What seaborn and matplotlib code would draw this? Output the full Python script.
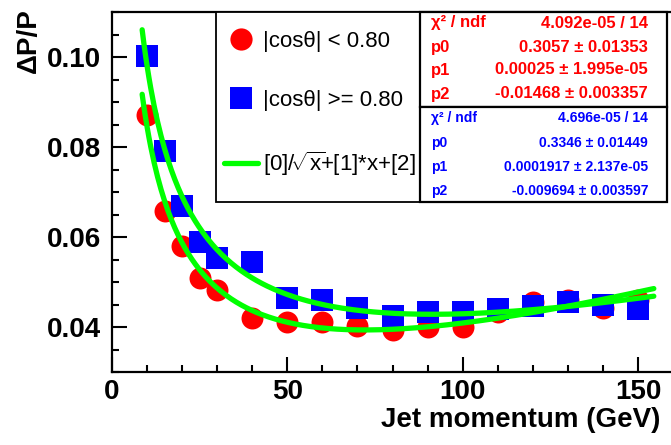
import numpy as np
import pandas as pd
import matplotlib
matplotlib.use("Agg")
import matplotlib.pyplot as plt
from matplotlib.lines import Line2D
from matplotlib.patches import Rectangle
from matplotlib.ticker import MultipleLocator, FormatStrFormatter
import seaborn as sns

# data
momentum = [10, 15, 20, 25, 30, 40, 50, 60, 70, 80, 90, 100, 110, 120, 130, 140, 150]
res_central = [0.0871, 0.0658, 0.0579, 0.0508, 0.0482, 0.0421, 0.0412, 0.0412, 0.0402,
               0.0393, 0.0401, 0.0399, 0.0434, 0.0456, 0.0460, 0.0442, 0.0460]
res_forward = [0.1003, 0.0792, 0.0669, 0.0588, 0.0553, 0.0545, 0.0465, 0.0460, 0.0442,
               0.0425, 0.0434, 0.0433, 0.0440, 0.0447, 0.0455, 0.0449, 0.0440]

# fit parameters printed in the stats boxes: [0]/sqrt(x)+[1]*x+[2]
fit_central = [0.3057, 0.00025, -0.01468]
fit_forward = [0.3346, 0.0001917, -0.009694]
fit_range = (8.6, 154.5)

stats_central = [("χ² / ndf", "4.092e-05 / 14"),
                 ("p0", "0.3057 ± 0.01353"),
                 ("p1", "0.00025 ± 1.995e-05"),
                 ("p2", "-0.01468 ± 0.003357")]
stats_forward = [("χ² / ndf", "4.696e-05 / 14"),
                 ("p0", "0.3346 ± 0.01449"),
                 ("p1", "0.0001917 ± 2.137e-05"),
                 ("p2", "-0.009694 ± 0.003597")]

RED = "#ff0000"
BLUE = "#0000ff"
GREEN = "#00ff00"

sns.set_style("ticks")
plt.rcParams["font.family"] = ["Liberation Sans", "DejaVu Sans"]
plt.rcParams["mathtext.fontset"] = "custom"
plt.rcParams["mathtext.rm"] = "Liberation Sans"
plt.rcParams["mathtext.it"] = "Liberation Sans"
plt.rcParams["text.color"] = "black"
plt.rcParams["xtick.color"] = "black"
plt.rcParams["ytick.color"] = "black"
plt.rcParams["axes.edgecolor"] = "black"

W, H = 671, 445
fig = plt.figure(figsize=(W / 100, H / 100), dpi=100)


def fx(px):
    return px / W


def fy(py):
    return 1 - py / H


ax = fig.add_axes([fx(112), fy(372), fx(671) - fx(112), fy(12) - fy(372)])

df_c = pd.DataFrame({"p": momentum, "res": res_central})
df_f = pd.DataFrame({"p": momentum, "res": res_forward})
sns.scatterplot(data=df_c, x="p", y="res", marker="o", s=250, color=RED,
                linewidth=0, ax=ax, zorder=3)
sns.scatterplot(data=df_f, x="p", y="res", marker="s", s=250, color=BLUE,
                linewidth=0, ax=ax, zorder=4)

xs = np.linspace(fit_range[0], fit_range[1], 300)
for par in (fit_central, fit_forward):
    ys = par[0] / np.sqrt(xs) + par[1] * xs + par[2]
    sns.lineplot(x=xs, y=ys, color=GREEN, lw=3.8, ax=ax, zorder=5)

ax.set_xlim(0, 159.4)
ax.set_ylim(0.03, 0.11)
ax.set_xticks([0, 50, 100, 150])
ax.set_yticks([0.04, 0.06, 0.08, 0.10])
ax.xaxis.set_minor_locator(MultipleLocator(10))
ax.yaxis.set_minor_locator(MultipleLocator(0.005))
ax.yaxis.set_major_formatter(FormatStrFormatter("%.2f"))
ax.tick_params(which="both", direction="in", width=1.5, top=False, right=False,
               color="black", labelcolor="black")
ax.tick_params(which="major", length=11)
ax.tick_params(which="minor", length=5)
ax.tick_params(axis="y", which="major", pad=8)
ax.tick_params(axis="x", which="major", pad=5)
for lab in ax.get_xticklabels() + ax.get_yticklabels():
    lab.set_fontsize(20)
    lab.set_fontweight("bold")
for side in ["left", "bottom", "top"]:
    ax.spines[side].set_linewidth(1.6)
    ax.spines[side].set_color("black")
ax.spines["right"].set_visible(False)
ax.set_xlabel("")
ax.set_ylabel("")

fig.text(fx(660), fy(420), "Jet momentum (GeV)", ha="right", va="center",
         fontsize=20, fontweight="bold", color="black")
fig.text(fx(29), fy(8), "ΔP/P", ha="center", va="top", rotation=90,
         fontsize=20, fontweight="bold", color="black")

# legend box
fig.add_artist(Rectangle((fx(216), fy(202)), fx(420) - fx(216), fy(12) - fy(202),
                         transform=fig.transFigure, fill=True, facecolor="white",
                         edgecolor="black", lw=1.3, zorder=6))
handles = [Line2D([], [], marker="o", ls="none", color=RED, markersize=16, mew=0),
           Line2D([], [], marker="s", ls="none", color=BLUE, markersize=16, mew=0),
           Line2D([], [], color=GREEN, lw=3.8)]
labels = ["|cosθ| < 0.80", "|cosθ| >= 0.80", r"[0]/$\!\sqrt{x}\!$+[1]*x+[2]"]
leg = fig.legend(handles, labels, loc="upper left",
                 bbox_to_anchor=(fx(224), fy(31)), frameon=False, fontsize=16,
                 borderpad=0, borderaxespad=0, handlelength=1.55,
                 handletextpad=0.2, labelspacing=1.72)
leg.set_zorder(7)

# stats boxes
for top, bottom, color, rows, size, ys in [
        (12, 107, RED, stats_central, 12, [23, 47.5, 70, 94]),
        (107, 202, BLUE, stats_forward, 10, [118, 143, 167, 191])]:
    fig.add_artist(Rectangle((fx(420), fy(bottom)), fx(667) - fx(420), fy(top) - fy(bottom),
                             transform=fig.transFigure, facecolor="white",
                             edgecolor="black", lw=1.6, zorder=6))
    for (name, val), y in zip(rows, ys):
        fig.text(fx(431), fy(y), name, ha="left", va="center", color=color,
                 fontsize=size, fontweight="bold", zorder=7)
        fig.text(fx(648), fy(y), val, ha="right", va="center", color=color,
                 fontsize=size, fontweight="bold", zorder=7)

fig.savefig("out.png", dpi=100)
